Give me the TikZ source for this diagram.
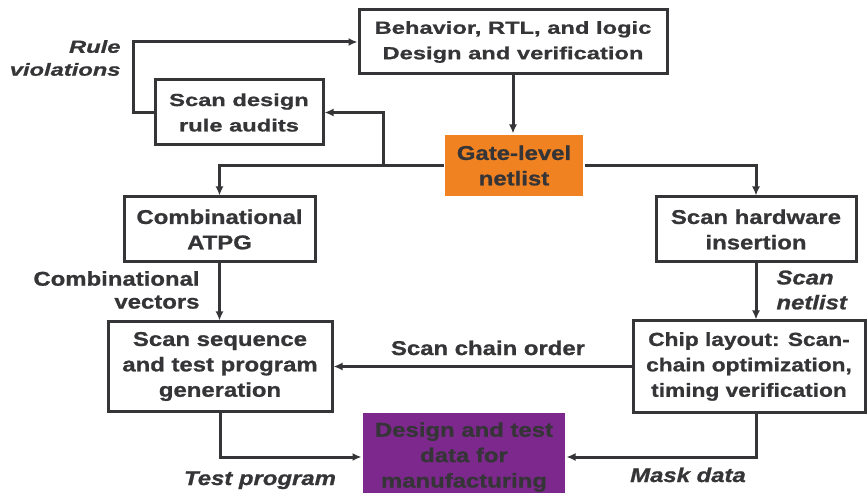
\documentclass[tikz,border=0pt]{standalone}
\usepackage{fontspec}
\setmainfont{Liberation Sans}
\newfontfamily\topfont{Liberation Sans}[FakeStretch=1.36, BoldFeatures={FakeBold=1}, BoldItalicFeatures={FakeBold=1}]
\newfontfamily\lowfont{Liberation Sans}[FakeStretch=1.2, BoldFeatures={FakeBold=1}, BoldItalicFeatures={FakeBold=1}]
\usetikzlibrary{arrows.meta}
\definecolor{ink}{RGB}{53,53,56}
\definecolor{netorange}{RGB}{240,130,34}
\definecolor{mfgpurple}{RGB}{125,40,140}

\begin{document}
\begin{tikzpicture}[
  x=1bp, y=-1bp, >={Latex[length=9bp,width=8bp]}, line width=3bp, color=ink,
  topbox/.style={rectangle, draw=ink, inner sep=0pt, align=center, font=\topfont\bfseries\fontsize{17.5}{25.5}\selectfont},
  lowbox/.style={rectangle, draw=ink, inner sep=0pt, align=center, font=\lowfont\bfseries\fontsize{20}{25.5}\selectfont},
  toplbl/.style={inner sep=0pt, font=\topfont\bfseries\itshape\fontsize{17.5}{23}\selectfont},
  lbl/.style={inner sep=0pt, font=\lowfont\bfseries\fontsize{20}{23}\selectfont},
  ilbl/.style={inner sep=0pt, font=\lowfont\bfseries\itshape\fontsize{20}{25}\selectfont}
]
\useasboundingbox (0,0) rectangle (867,493);
\clip (0,0) rectangle (867,493);

\node[topbox, minimum width=308bp, minimum height=64bp] (behav) at (513,42) {Behavior, RTL, and logic\\Design and verification};
\node[topbox, minimum width=168bp, minimum height=65bp] (audit) at (239,112.5) {Scan design\\rule audits};
\node[lowbox, draw=none, fill=netorange, minimum width=138bp, minimum height=61bp] (gate) at (514,165.5) {Gate-level\\netlist};
\node[lowbox, minimum width=191bp, minimum height=65bp] (atpg) at (219.5,229.5) {Combinational\\ATPG};
\node[lowbox, minimum width=200bp, minimum height=65bp] (hw) at (756,229.5) {Scan hardware\\insertion};
\node[lowbox, minimum width=224bp, minimum height=89bp] (seq) at (220,366.5) {Scan sequence\\and test program\\generation};
\node[lowbox, font=\lowfont\bfseries\fontsize{19}{25.5}\selectfont, minimum width=232bp, minimum height=91bp] (chip) at (749,366.5) {Chip layout: Scan-\\chain optimization,\\timing verification};
\node[lowbox, draw=none, fill=mfgpurple, minimum width=202bp, minimum height=88bp] (data) at (464,457) {Design and test\\data for\\manufacturing};

\node[toplbl, anchor=east, align=right] (rulev) at (122,58) {Rule\\violations};
\node[lbl, anchor=east, align=right] (combv) at (201,290) {Combinational\\vectors};
\node[ilbl, anchor=west, align=left] (scannet) at (775,290) {Scan\\netlist};
\node[lbl, anchor=base] (order) at (488,355) {Scan chain order};
\node[ilbl, anchor=base] (testp) at (260,485) {Test program};
\node[ilbl, anchor=base] (mask) at (688,482) {Mask data};

\coordinate (split) at (383,165.5);
\coordinate (loop) at (133,112.5);

\draw[->] (behav.south) -- (behav.south |- gate.north);
\draw[->] (gate.west) -| (atpg.north);
\draw[->] (gate.east) -| (hw.north);
\draw[->] (split) |- (audit.east);
\draw[->] (audit.west) -- (loop) |- (behav.west);
\draw[->] (atpg.south) -- (atpg.south |- seq.north);
\draw[->] (hw.south) -- (hw.south |- chip.north);
\draw[->] (chip.west) -- (seq.east);
\draw[->] (seq.south) |- (data.west);
\draw[->] (hw.south |- chip.south) |- (data.east);
\end{tikzpicture}
\end{document}
